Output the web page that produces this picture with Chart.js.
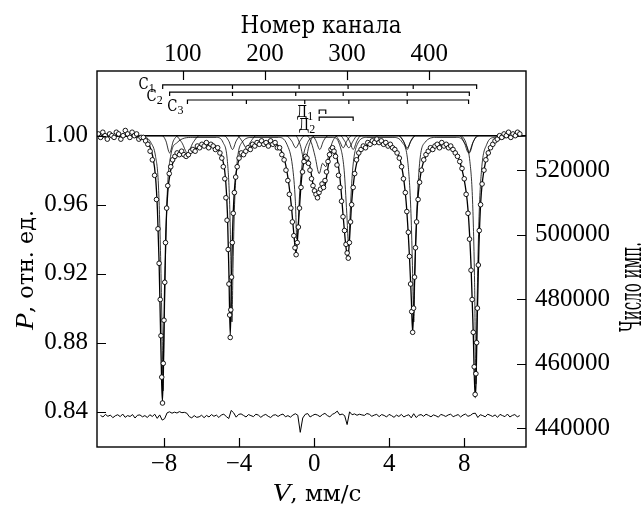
<!DOCTYPE html>
<html>
<head>
<meta charset="utf-8">
<script src="https://cdn.jsdelivr.net/npm/chart.js@4.4.1/dist/chart.umd.min.js"></script>
<style>
  html, body { margin: 0; padding: 0; background: #fff; }
  canvas { display: block; }
</style>
</head>
<body>
<canvas id="spectrum" width="643" height="505"></canvas>
<script>
// tick labels
var velocityTicks = [-8, -4, 0, 4, 8];
var channelTicks = [100, 200, 300, 400];
var transmissionTicks = [0.84, 0.88, 0.92, 0.96, 1.00];
var countTicks = [440000, 460000, 480000, 500000, 520000];

// measured spectrum: [V mm/s, P]
var measured = [
  [-11.50, 1.001], [-11.38, 0.999], [-11.26, 1.002], [-11.14, 1.000], [-11.02, 0.998], [-10.90, 1.001],
  [-10.78, 1.000], [-10.66, 0.999], [-10.54, 1.002], [-10.42, 1.001], [-10.30, 0.998], [-10.18, 1.000],
  [-10.06, 1.003], [-9.94, 1.001], [-9.82, 0.999], [-9.70, 1.002], [-9.58, 1.000], [-9.46, 1.001],
  [-9.34, 0.998], [-9.22, 0.999], [-9.10, 0.999], [-8.98, 0.997], [-8.86, 0.995], [-8.74, 0.991],
  [-8.62, 0.986], [-8.50, 0.977], [-8.40, 0.963], [-8.32, 0.946], [-8.26, 0.926], [-8.20, 0.905],
  [-8.16, 0.884], [-8.12, 0.860], [-8.08, 0.845], [-8.04, 0.868], [-8.00, 0.893], [-7.96, 0.915],
  [-7.92, 0.938], [-7.86, 0.958], [-7.80, 0.971], [-7.72, 0.978], [-7.64, 0.982], [-7.54, 0.986],
  [-7.42, 0.988], [-7.30, 0.990], [-7.18, 0.989], [-7.06, 0.991], [-6.94, 0.989], [-6.82, 0.988],
  [-6.70, 0.989], [-6.58, 0.991], [-6.46, 0.992], [-6.34, 0.991], [-6.22, 0.994], [-6.10, 0.993],
  [-5.98, 0.995], [-5.86, 0.994], [-5.74, 0.996], [-5.62, 0.993], [-5.50, 0.995], [-5.38, 0.994],
  [-5.26, 0.992], [-5.14, 0.993], [-5.02, 0.990], [-4.92, 0.987], [-4.84, 0.982], [-4.76, 0.975],
  [-4.70, 0.964], [-4.64, 0.951], [-4.58, 0.934], [-4.54, 0.914], [-4.50, 0.896], [-4.47, 0.883],
  [-4.44, 0.899], [-4.40, 0.918], [-4.36, 0.938], [-4.31, 0.955], [-4.25, 0.967], [-4.18, 0.976],
  [-4.10, 0.982], [-4.00, 0.987], [-3.88, 0.990], [-3.76, 0.989], [-3.64, 0.991], [-3.52, 0.993],
  [-3.40, 0.992], [-3.28, 0.995], [-3.16, 0.994], [-3.04, 0.996], [-2.92, 0.995], [-2.80, 0.997],
  [-2.68, 0.995], [-2.56, 0.996], [-2.44, 0.994], [-2.32, 0.997], [-2.20, 0.995], [-2.08, 0.996],
  [-1.96, 0.993], [-1.84, 0.993], [-1.72, 0.989], [-1.60, 0.986], [-1.50, 0.980], [-1.40, 0.974],
  [-1.32, 0.966], [-1.24, 0.958], [-1.16, 0.950], [-1.08, 0.942], [-1.02, 0.935], [-0.96, 0.931],
  [-0.90, 0.938], [-0.84, 0.947], [-0.78, 0.958], [-0.70, 0.970], [-0.62, 0.979], [-0.54, 0.985],
  [-0.46, 0.988], [-0.38, 0.987], [-0.30, 0.984], [-0.22, 0.980], [-0.14, 0.975], [-0.06, 0.971],
  [0.02, 0.968], [0.10, 0.966], [0.18, 0.964], [0.26, 0.967], [0.34, 0.969], [0.42, 0.972],
  [0.50, 0.970], [0.58, 0.974], [0.66, 0.979], [0.74, 0.985], [0.82, 0.989], [0.90, 0.992],
  [0.98, 0.993], [1.06, 0.991], [1.14, 0.988], [1.22, 0.983], [1.30, 0.977], [1.38, 0.970],
  [1.46, 0.962], [1.54, 0.953], [1.62, 0.945], [1.70, 0.937], [1.76, 0.932], [1.82, 0.929],
  [1.88, 0.938], [1.94, 0.950], [2.00, 0.960], [2.08, 0.970], [2.16, 0.978], [2.26, 0.986],
  [2.38, 0.990], [2.50, 0.992], [2.62, 0.994], [2.74, 0.993], [2.86, 0.996], [2.98, 0.995],
  [3.10, 0.997], [3.22, 0.996], [3.34, 0.998], [3.46, 0.996], [3.58, 0.997], [3.70, 0.995],
  [3.82, 0.996], [3.94, 0.994], [4.06, 0.995], [4.18, 0.993], [4.30, 0.992], [4.42, 0.990],
  [4.54, 0.987], [4.66, 0.982], [4.76, 0.975], [4.86, 0.967], [4.94, 0.956], [5.02, 0.944],
  [5.08, 0.930], [5.14, 0.914], [5.20, 0.898], [5.25, 0.886], [5.30, 0.900], [5.35, 0.918],
  [5.40, 0.935], [5.46, 0.950], [5.54, 0.963], [5.62, 0.973], [5.72, 0.980], [5.84, 0.986],
  [5.96, 0.989], [6.08, 0.991], [6.20, 0.993], [6.32, 0.992], [6.44, 0.994], [6.56, 0.995],
  [6.68, 0.993], [6.80, 0.996], [6.92, 0.994], [7.04, 0.995], [7.16, 0.993], [7.28, 0.994],
  [7.40, 0.992], [7.52, 0.990], [7.64, 0.988], [7.76, 0.985], [7.88, 0.981], [8.00, 0.975],
  [8.10, 0.966], [8.20, 0.955], [8.28, 0.940], [8.36, 0.922], [8.42, 0.905], [8.48, 0.886],
  [8.53, 0.866], [8.58, 0.850], [8.62, 0.862], [8.66, 0.880], [8.70, 0.900], [8.75, 0.925],
  [8.80, 0.945], [8.87, 0.960], [8.95, 0.972], [9.05, 0.980], [9.15, 0.986], [9.28, 0.990],
  [9.40, 0.993], [9.52, 0.995], [9.64, 0.997], [9.76, 0.998], [9.88, 1.000], [10.00, 0.999],
  [10.12, 1.001], [10.24, 1.000], [10.36, 1.002], [10.48, 0.999], [10.60, 1.001], [10.72, 1.000],
  [10.84, 1.002], [10.96, 1.001]
];

// fitted envelope
var fitCurve = [
  [-11.57, 1.000], [-9.3, 0.999], [-9.0, 0.998], [-8.8, 0.995], [-8.6, 0.988], [-8.45, 0.976],
  [-8.35, 0.957], [-8.26, 0.926], [-8.19, 0.890], [-8.12, 0.855], [-8.08, 0.846], [-8.03, 0.870],
  [-7.97, 0.910], [-7.9, 0.944], [-7.8, 0.967], [-7.66, 0.979], [-7.5, 0.985], [-7.2, 0.989],
  [-6.95, 0.989], [-6.75, 0.988], [-6.5, 0.991], [-6.0, 0.994], [-5.5, 0.995], [-5.1, 0.992],
  [-4.85, 0.985], [-4.72, 0.975], [-4.62, 0.955], [-4.54, 0.920], [-4.47, 0.884], [-4.42, 0.908],
  [-4.35, 0.943], [-4.25, 0.968], [-4.1, 0.982], [-3.9, 0.988], [-3.6, 0.991], [-3.3, 0.994],
  [-2.8, 0.996], [-2.3, 0.996], [-1.9, 0.994], [-1.6, 0.987], [-1.4, 0.976], [-1.22, 0.960],
  [-1.08, 0.943], [-0.97, 0.932], [-0.9, 0.938], [-0.8, 0.955], [-0.67, 0.975], [-0.52, 0.986],
  [-0.38, 0.988], [-0.22, 0.982], [-0.06, 0.972], [0.1, 0.966], [0.2, 0.965], [0.32, 0.967],
  [0.44, 0.971], [0.55, 0.970], [0.66, 0.976], [0.82, 0.987], [1.0, 0.992], [1.18, 0.989],
  [1.38, 0.975], [1.55, 0.953], [1.7, 0.935], [1.8, 0.929], [1.88, 0.939], [2.0, 0.961],
  [2.15, 0.977], [2.4, 0.989], [2.8, 0.994], [3.3, 0.996], [3.8, 0.995], [4.3, 0.992],
  [4.65, 0.983], [4.9, 0.962], [5.08, 0.930], [5.18, 0.905], [5.25, 0.886], [5.31, 0.902],
  [5.4, 0.935], [5.52, 0.962], [5.7, 0.979], [6.0, 0.989], [6.5, 0.994], [7.1, 0.994],
  [7.6, 0.989], [7.95, 0.977], [8.2, 0.957], [8.36, 0.925], [8.48, 0.885], [8.58, 0.848],
  [8.63, 0.858], [8.7, 0.898], [8.78, 0.935], [8.88, 0.962], [9.05, 0.980], [9.3, 0.991],
  [9.7, 0.997], [10.2, 0.999], [11.28, 1.000]
];

// subspectra
var compC1 = [
  [-11.57, 1.0], [-9.0, 0.999], [-8.7, 0.996], [-8.45, 0.988], [-8.3, 0.972], [-8.18, 0.930],
  [-8.1, 0.885], [-8.05, 0.852], [-8.0, 0.880], [-7.92, 0.930], [-7.82, 0.968], [-7.65, 0.988],
  [-7.3, 0.996], [-6.5, 0.999], [-5.2, 0.999], [-4.85, 0.996], [-4.62, 0.985], [-4.5, 0.960],
  [-4.44, 0.930], [-4.38, 0.892], [-4.32, 0.925], [-4.24, 0.960], [-4.1, 0.985], [-3.85, 0.996],
  [-3.3, 0.999], [-1.9, 0.999], [-1.45, 0.995], [-1.15, 0.982], [-1.0, 0.962], [-0.92, 0.940],
  [-0.86, 0.946], [-0.78, 0.965], [-0.62, 0.985], [-0.35, 0.996], [0.0, 0.999], [1.0, 0.999],
  [1.35, 0.995], [1.6, 0.980], [1.74, 0.955], [1.84, 0.936], [1.92, 0.955], [2.05, 0.980],
  [2.3, 0.995], [2.8, 0.999], [4.2, 0.999], [4.7, 0.996], [5.0, 0.984], [5.16, 0.955],
  [5.25, 0.920], [5.31, 0.892], [5.37, 0.920], [5.47, 0.955], [5.62, 0.984], [5.9, 0.996],
  [6.5, 0.999], [7.6, 0.999], [8.0, 0.996], [8.3, 0.985], [8.45, 0.960], [8.55, 0.915],
  [8.62, 0.856], [8.68, 0.900], [8.78, 0.950], [8.92, 0.980], [9.2, 0.995], [9.6, 0.999],
  [11.28, 1.0]
];
var compC2 = [
  [-11.57, 1.0], [-8.1, 1.0], [-7.9, 0.997], [-7.7, 0.990], [-7.5, 0.997], [-7.2, 1.0],
  [-4.8, 1.0], [-4.55, 0.997], [-4.35, 0.992], [-4.15, 0.997], [-3.9, 1.0], [-1.5, 1.0],
  [-1.2, 0.997], [-0.98, 0.993], [-0.75, 0.997], [-0.5, 1.0], [1.1, 1.0], [1.35, 0.997],
  [1.55, 0.993], [1.75, 0.997], [2.0, 1.0], [4.5, 1.0], [4.75, 0.997], [4.96, 0.992],
  [5.15, 0.997], [5.4, 1.0], [7.8, 1.0], [8.05, 0.997], [8.27, 0.990], [8.5, 0.997],
  [8.8, 1.0], [11.28, 1.0]
];
var compC3 = [
  [-11.57, 1.0], [-7.4, 1.0], [-7.05, 0.996], [-6.75, 0.990], [-6.45, 0.996], [-6.1, 1.0],
  [-4.1, 1.0], [-3.85, 0.997], [-3.61, 0.993], [-3.35, 0.997], [-3.1, 1.0], [-1.0, 1.0],
  [-0.75, 0.995], [-0.5, 0.985], [-0.25, 0.995], [0.0, 1.0], [1.4, 1.0], [1.62, 0.997],
  [1.85, 0.993], [2.08, 0.997], [2.3, 1.0], [4.5, 1.0], [4.75, 0.997], [4.96, 0.993],
  [5.17, 0.997], [5.4, 1.0], [7.75, 1.0], [8.0, 0.996], [8.23, 0.990], [8.46, 0.996],
  [8.7, 1.0], [11.28, 1.0]
];
var compD1 = [
  [-11.57, 1.0], [-0.4, 1.0], [-0.15, 0.996], [0.05, 0.988], [0.27, 0.978], [0.45, 0.984],
  [0.62, 0.982], [0.8, 0.990], [1.0, 0.997], [1.3, 1.0], [11.28, 1.0]
];
var compD2 = [
  [-11.57, 1.0], [-0.1, 1.0], [0.1, 0.997], [0.3, 0.992], [0.5, 0.997], [0.75, 1.0],
  [1.65, 1.0], [1.88, 0.997], [2.08, 0.992], [2.28, 0.997], [2.5, 1.0], [11.28, 1.0]
];
var baselineLevel = 1.0;

// difference spectrum, every 3rd channel, in units of 0.001
var residualChannelStep = 3;
var residualMilli = [
  0.3, -0.6, 0.9, -0.2, 0.5, -1.0, 0.1, 0.7, -0.4, 1.1, -0.8, 0.2, -0.3, 0.8, -1.2, 0.4, 0.6, -0.5, 0.2, -0.9,
  0.7, -0.3, 1.0, -1.4, 0.6, -2.4, -1.6, 1.8, 2.4, 1.6, 2.2, 1.7, 2.5, 1.9, 2.1, 1.6, -0.4, -1.1, 0.2, -0.8,
  -0.5, 0.4, -1.0, 0.3, -0.6, 0.8, -0.2, 0.5, -0.9, 0.6, 1.0, -0.3, -1.5, 3.2, 1.8, -0.7, 0.9, 1.2, 0.3, -0.6,
  0.8, 0.2, -0.4, 1.0, 0.5, -0.8, 0.3, 0.9, -0.2, -0.9, 0.4, 0.7, -0.3, 0.6, 1.1, -0.5, 0.2, -0.7, 0.5, 1.3,
  0.4, -9.5, -1.2, 0.9, 1.4, -0.6, 0.3, 1.0, 0.5, -0.4, 0.8, 1.5, 0.2, -0.5, 0.9, 1.6, 2.8, 0.6, 1.1, 0.2,
  -5.0, 2.4, 0.7, 1.2, 0.4, 1.0, 0.6, 0.3, 1.4, 1.0, -0.2, 0.5, 0.9, -0.4, 0.8, 0.3, -0.6, 0.9, 0.2, -0.8,
  0.5, -0.3, 0.9, -0.6, 0.2, 0.7, -1.1, 1.3, -0.9, 0.4, 0.8, -0.2, 1.0, 0.3, -0.5, 0.6, 0.1, -0.7, 0.9, 0.4,
  -0.3, 0.6, 1.0, -0.4, 0.2, 0.8, -0.6, 0.5, 1.1, -0.2, 0.3, 1.4, 1.6, -0.9, 0.7, 0.2, -0.5, 1.0, 0.4, -0.3,
  0.6, -0.8, 0.9, 0.2, -0.4, 1.1, -0.6, 0.3, 0.8, -0.5, 0.2
];

// line positions of the subspectra (mm/s)
var sticksC1 = [-8.07, -4.35, -0.80, 1.81, 5.28, 8.66];
var sticksC2 = [-7.70, -4.35, -0.98, 1.55, 4.96, 8.27];
var sticksC3 = [-6.75, -3.61, -0.50, 1.85, 4.96, 8.23];
var sticksD1 = [0.27, 0.62];
var sticksD2 = [0.27, 2.08];

// layout of the stick diagrams (P units, label offsets in px)
var stickRows = [
  { lines: sticksC1, level: 1.0294, letter: 'С', sub: '1', gap: 8, dy: 4 },
  { lines: sticksC2, level: 1.0253, letter: 'С', sub: '2', gap: 7, dy: 9 },
  { lines: sticksC3, level: 1.0207, letter: 'С', sub: '3', gap: 4, dy: 11 },
  { lines: sticksD1, level: 1.0149, letter: 'Д', sub: '1', gap: 6, dy: 7 },
  { lines: sticksD2, level: 1.0108, letter: 'Д', sub: '2', gap: 4, dy: 13 }
];
var stickDrop = 0.0023;
var residualLevel = 0.8375;

// Liberation Serif here has no Cyrillic, so DejaVu Serif fills those glyphs
var SERIF = '"Liberation Serif", "DejaVu Serif Condensed", "DejaVu Serif", serif';
var CYR = '"DejaVu Serif Condensed", "DejaVu Serif", serif';

function toXY(pairs) {
  return pairs.map(function (p) { return { x: p[0], y: p[1] }; });
}

function stickPath(lines, level) {
  var pts = [];
  lines.forEach(function (v, i) {
    if (i > 0) pts.push({ x: v, y: level });
    pts.push({ x: v, y: level - stickDrop });
    pts.push({ x: v, y: level });
  });
  return pts;
}

function lineSet(data, width, extra) {
  var ds = {
    data: data,
    showLine: true,
    borderColor: '#000',
    borderWidth: width,
    pointRadius: 0,
    fill: false,
    cubicInterpolationMode: 'monotone'
  };
  for (var k in extra) ds[k] = extra[k];
  return ds;
}

function fixSize(prop, size) {
  return function (s) {
    s[prop] = size;
    s.paddingLeft = s.paddingRight = s.paddingTop = s.paddingBottom = 0;
  };
}

function setTicks(list) {
  return function (s) {
    s.ticks = list.map(function (v) { return { value: v }; });
  };
}

function minusLabel(v) {
  return v < 0 ? '\u2212' + Math.abs(v) : String(v);
}

// title drawn from parts, stretched to a given width
function drawTitle(ctx, parts, x, y, angle, size, width) {
  ctx.save();
  ctx.translate(x, y);
  ctx.rotate(angle);
  var total = 0;
  function fontOf(p) {
    return (p.italic ? 'italic ' : '') + (p.size || size) + 'px ' + (p.latin ? SERIF : CYR);
  }
  parts.forEach(function (p) {
    ctx.font = fontOf(p);
    p.w = ctx.measureText(p.t).width;
    total += p.w;
  });
  ctx.scale(width / total, 1);
  ctx.textBaseline = 'alphabetic';
  ctx.textAlign = 'left';
  ctx.fillStyle = '#000';
  var cx = -total / 2;
  parts.forEach(function (p) {
    ctx.font = fontOf(p);
    ctx.fillText(p.t, cx, 0);
    cx += p.w;
  });
  ctx.restore();
}

var framePlugin = {
  id: 'frame',
  afterDraw: function (chart) {
    var ctx = chart.ctx;
    var a = chart.chartArea;
    var sc = chart.scales;
    var T = 9;
    ctx.save();
    ctx.strokeStyle = '#000';
    ctx.lineWidth = 1.4;
    ctx.strokeRect(a.left, a.top, a.right - a.left, a.bottom - a.top);

    ctx.lineWidth = 1.2;
    ctx.beginPath();
    sc.x.ticks.forEach(function (t) {
      var p = Math.round(sc.x.getPixelForValue(t.value)) + 0.5;
      ctx.moveTo(p, a.bottom); ctx.lineTo(p, a.bottom - T);
    });
    sc.xTop.ticks.forEach(function (t) {
      var p = Math.round(sc.xTop.getPixelForValue(t.value)) + 0.5;
      ctx.moveTo(p, a.top); ctx.lineTo(p, a.top + T);
    });
    sc.y.ticks.forEach(function (t) {
      var p = Math.round(sc.y.getPixelForValue(t.value)) + 0.5;
      ctx.moveTo(a.left, p); ctx.lineTo(a.left + T, p);
    });
    sc.yRight.ticks.forEach(function (t) {
      var p = Math.round(sc.yRight.getPixelForValue(t.value)) + 0.5;
      ctx.moveTo(a.right, p); ctx.lineTo(a.right - T, p);
    });
    ctx.stroke();

    // stick diagram labels
    ctx.fillStyle = '#000';
    ctx.textBaseline = 'alphabetic';
    stickRows.forEach(function (r) {
      var xr = sc.x.getPixelForValue(r.lines[0]) - r.gap;
      var yb = sc.y.getPixelForValue(r.level) + r.dy;
      ctx.font = '12px ' + SERIF;
      var ws = ctx.measureText(r.sub).width;
      ctx.textAlign = 'right';
      ctx.fillText(r.sub, xr, yb + 3);
      ctx.font = '16px ' + CYR;
      ctx.save();
      ctx.translate(xr - ws, yb);
      ctx.scale(0.92, 1);
      ctx.fillText(r.letter, 0, 0);
      ctx.restore();
    });

    // axis titles
    drawTitle(ctx, [{ t: 'Номер канала' }], 321, 33, 0, 24, 161);
    drawTitle(ctx, [{ t: 'V', italic: true, latin: true, size: 26 }, { t: ', мм/с' }], 317, 501, 0, 23, 89);
    drawTitle(ctx, [{ t: 'P', italic: true, latin: true, size: 26 }, { t: ', отн. ед.' }], 33, 270, -Math.PI / 2, 23, 120);
    drawTitle(ctx, [{ t: 'Число имп.' }], 641, 287, -Math.PI / 2, 30, 90);
    ctx.restore();
  }
};

var tickFont = { family: SERIF, size: 25, lineHeight: 1.2 };

function axis(position, min, max, ticks, sizeProp, size, padding, fmt) {
  return {
    type: 'linear',
    position: position,
    min: min,
    max: max,
    afterBuildTicks: setTicks(ticks),
    afterFit: fixSize(sizeProp, size),
    grid: { display: false, drawTicks: false },
    border: { display: false },
    ticks: {
      color: '#000',
      font: tickFont,
      padding: padding,
      autoSkip: false,
      maxRotation: 0,
      callback: fmt
    }
  };
}

var residualData = residualMilli.map(function (r, i) {
  return { x: i * residualChannelStep, y: residualLevel + r / 1000 };
});

new Chart(document.getElementById('spectrum'), {
  type: 'scatter',
  data: {
    datasets: [
      {
        data: toXY(measured),
        pointRadius: 2.3,
        pointBorderWidth: 0.9,
        pointBorderColor: '#000',
        pointBackgroundColor: '#fff',
        showLine: false
      },
      lineSet(toXY(fitCurve), 1.3),
      lineSet(toXY(compC1), 0.8),
      lineSet(toXY(compC2), 0.8),
      lineSet(toXY(compC3), 0.8),
      lineSet(toXY(compD1), 0.8),
      lineSet(toXY(compD2), 0.8),
      lineSet([{ x: -11.57, y: baselineLevel }, { x: 11.29, y: baselineLevel }], 1.3),
      lineSet(residualData, 1, { xAxisID: 'xTop', cubicInterpolationMode: 'default', tension: 0 }),
      lineSet(stickPath(sticksC1, stickRows[0].level), 1.2, { cubicInterpolationMode: 'default', tension: 0 }),
      lineSet(stickPath(sticksC2, stickRows[1].level), 1.2, { cubicInterpolationMode: 'default', tension: 0 }),
      lineSet(stickPath(sticksC3, stickRows[2].level), 1.2, { cubicInterpolationMode: 'default', tension: 0 }),
      lineSet(stickPath(sticksD1, stickRows[3].level), 1.2, { cubicInterpolationMode: 'default', tension: 0 }),
      lineSet(stickPath(sticksD2, stickRows[4].level), 1.2, { cubicInterpolationMode: 'default', tension: 0 })
    ]
  },
  options: {
    responsive: false,
    animation: false,
    layout: { padding: 0 },
    plugins: { legend: { display: false }, tooltip: { enabled: false } },
    scales: {
      x: axis('bottom', -11.57, 11.29, velocityTicks, 'height', 58, 2, minusLabel),
      xTop: axis('top', -4.26, 517.6, channelTicks, 'height', 71, 2, function (v) { return String(v); }),
      y: axis('left', 0.8195, 1.0375, transmissionTicks, 'width', 97, 9, function (v) { return v.toFixed(2); }),
      yRight: axis('right', 434208, 550662, countTicks, 'width', 117, 9, function (v) { return String(v); })
    }
  },
  plugins: [framePlugin]
});
</script>
</body>
</html>
